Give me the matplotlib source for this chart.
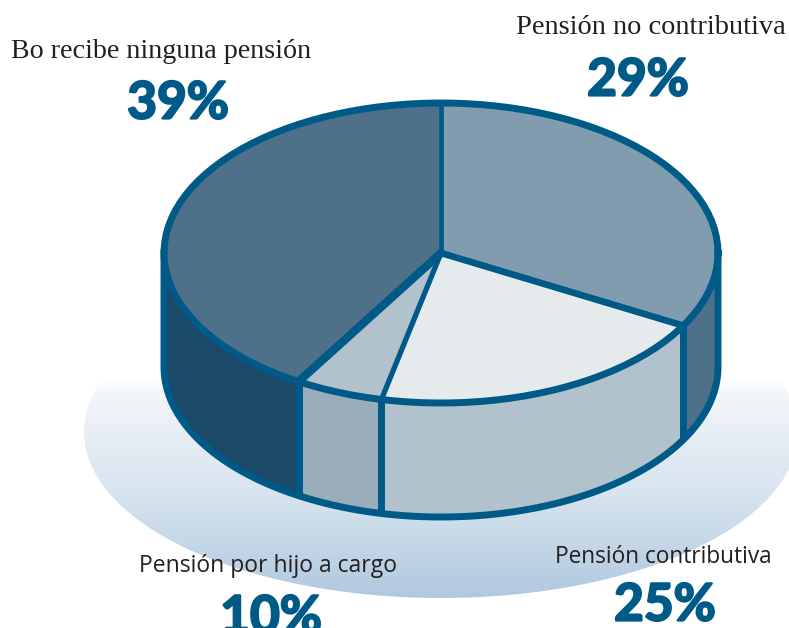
#!/usr/bin/env python3
# -*- coding: utf-8 -*-
"""
Pie 3D de tipos de pension, dibujado a mano sobre un eje en pixeles
"""

import matplotlib
matplotlib.use('Agg')
import matplotlib.pyplot as plt
import matplotlib.patheffects as pe
import numpy as np
from matplotlib.colors import LinearSegmentedColormap
from matplotlib.patches import Ellipse

# etiquetas y porcentajes rotulados
categories = ['Pensión no contributiva', 'Pensión contributiva', 'Pensión por hijo a cargo', 'Bo recibe ninguna pensión']
values = [29, 25, 10, 39]
# parte del circulo que ocupa cada porcion en el dibujo (no coincide con el rotulo)
drawn_shares = [33.05, 20.4, 5.15, 41.4]

top_colors = ['#809cae', '#e5eaed', '#b1c2cd', '#4e7089']
side_colors = ['#4e7089', '#b1c2cd', '#99adba', '#1b4968']
LINE = '#005a87'

CX, CY, RX, RY = 441, 253, 277, 150
DEPTH = 114
LW = 5.0
# grosor de cada radio de la cara superior
spoke_lw = [3.4, 4.8, 3.8, 6.0]


def arc(a0, a1, dy=0):
    t = np.radians(np.linspace(a0, a1, 120))
    return CX + RX * np.cos(t), CY - RY * np.sin(t) + dy


fig = plt.figure(figsize=(7.89, 6.28), dpi=100)
ax = fig.add_axes([0, 0, 1, 1])
ax.set_xlim(0, 789)
ax.set_ylim(628, 0)
ax.axis('off')

# sombra con degradado
cmap = LinearSegmentedColormap.from_list('shadow', [(0, '#ffffff'), (0.06, '#f4f7fa'), (0.24, '#e7eef5'), (0.55, '#d6e3ee'), (1, '#b0c8df')])
grad = np.linspace(0, 1, 256).reshape(-1, 1)
im = ax.imshow(grad, cmap=cmap, extent=[0, 789, 598, 378], aspect='auto', zorder=1)
shadow = Ellipse((441, 432), 714, 332, transform=ax.transData, fc='none', ec='none')
ax.add_patch(shadow)
im.set_clip_path(shadow)
ax.set_xlim(0, 789)
ax.set_ylim(628, 0)

# limites de cada porcion, en sentido horario desde arriba
edges = 90 - np.cumsum([0] + drawn_shares) * 3.6

# cara lateral
for i in range(4):
    a0, a1 = edges[i], edges[i + 1]
    # solo la parte delantera (entre 0 y -180 grados)
    lo, hi = max(a1, -180), min(a0, 0)
    if hi <= lo:
        continue
    x, y = arc(hi, lo)
    xb, yb = arc(lo, hi, DEPTH)
    ax.fill(np.r_[x, xb], np.r_[y, yb], color=side_colors[i], lw=0, zorder=2)

# contorno de la cara lateral
x, y = arc(0, -180, DEPTH)
ax.plot(np.r_[CX + RX, x, CX - RX], np.r_[CY, y, CY], color=LINE, lw=LW, zorder=3)
for a in edges[1:-1]:
    x, y = arc(a, a)
    ax.plot([x[0], x[0]], [y[0], y[0] + DEPTH], color=LINE, lw=LW, zorder=3, solid_capstyle='butt')

# cara superior
for i in range(4):
    x, y = arc(edges[i], edges[i + 1])
    ax.fill(np.r_[CX, x], np.r_[CY, y], color=top_colors[i], lw=0, zorder=4)
for a, w in zip(edges[:-1], spoke_lw):
    x, y = arc(a, a)
    ax.plot([CX, x[0]], [CY, y[0]], color=LINE, lw=w, zorder=5, solid_capstyle='round')
x, y = arc(0, 360)
ax.plot(x, y, color=LINE, lw=LW, zorder=6)

# rotulos
label_style = [
    dict(x=651, y=28, size=20.4, family='Liberation Serif'),
    dict(x=663, y=557, size=16.3, family='Open Sans'),
    dict(x=268, y=566, size=16.5, family='Open Sans'),
    dict(x=161, y=52, size=20.2, family='Liberation Serif'),
]
pct_pos = [(638, 81), (665, 606), (271, 618), (178, 104)]
for cat, val, st, pos in zip(categories, values, label_style, pct_pos):
    ax.text(st['x'], st['y'], cat, fontsize=st['size'], family=st['family'], color='#231f20',
            ha='center', va='center', zorder=8)
    # el rotulo original es mas grueso que Lato Bold
    ax.text(pos[0], pos[1], f'{val}%', fontsize=37, family='Lato', fontweight='bold', color=LINE,
            ha='center', va='center', zorder=8,
            path_effects=[pe.withStroke(linewidth=1.6, foreground=LINE)])

fig.savefig('out.png', dpi=100)
